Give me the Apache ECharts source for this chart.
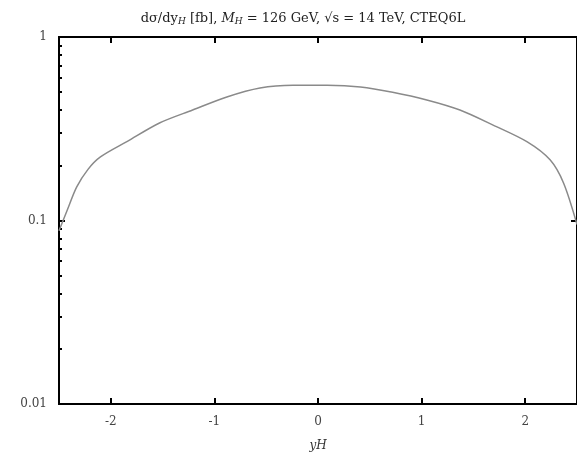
<!DOCTYPE html>
<html>
<head>
<meta charset="utf-8">
<script src="https://cdn.jsdelivr.net/npm/echarts@6/dist/echarts.min.js"></script>
<style>
  html, body { margin: 0; padding: 0; background: #fff; }
  #chart { width: 577px; height: 460px; }
</style>
</head>
<body>
<div id="chart"></div>
<script>
// rapidity yH and dsigma/dyH [fb]
var yH = [-2.5, -2.42, -2.33, -2.22, -2.1, -1.84, -1.53, -1.21, -0.88, -0.56, -0.24, 0.09, 0.41, 0.72, 1.05, 1.37, 1.69, 2.02, 2.24, 2.37, 2.5];
var dsig = [0.088, 0.114, 0.152, 0.19, 0.222, 0.27, 0.34, 0.40, 0.471, 0.527, 0.545, 0.545, 0.534, 0.50, 0.454, 0.40, 0.331, 0.268, 0.214, 0.16, 0.095];
var xTicks = [-2, -1, 0, 1, 2];
var yMajor = [0.01, 0.1, 1];
var yMinor = [0.02, 0.03, 0.04, 0.05, 0.06, 0.07, 0.08, 0.09, 0.2, 0.3, 0.4, 0.5, 0.6, 0.7, 0.8, 0.9];

var serif = 'DejaVu Serif';
var lineData = yH.map(function (x, i) { return [x, dsig[i]]; });

var chart = echarts.init(document.getElementById('chart'));

function xAx(pos, labels) {
  return {
    type: 'value', position: pos, min: -2.5, max: 2.5, interval: 0.5,
    name: labels ? 'yH' : '', nameLocation: 'middle', nameGap: 36,
    nameTextStyle: { fontFamily: serif, fontSize: 12, fontStyle: 'italic', color: '#333' },
    axisLine: { show: true, onZero: false, lineStyle: { color: '#000', width: 2 } },
    axisTick: { show: true, inside: true, length: 6, customValues: xTicks, lineStyle: { color: '#000', width: 2 } },
    axisLabel: { show: labels, customValues: xTicks, margin: 12, fontFamily: serif, fontSize: 12, color: '#444',
      formatter: function (v) { return v; } },
    splitLine: { show: false }
  };
}

function yAx(pos, ticks, len, labels) {
  return {
    type: 'log', logBase: 10, position: pos, min: 0.01, max: 1,
    axisLine: { show: true, onZero: false, lineStyle: { color: '#000', width: 2 } },
    axisTick: { show: true, inside: true, length: len, customValues: ticks, lineStyle: { color: '#000', width: 2 } },
    axisLabel: { show: labels, customValues: yMajor, margin: 12, fontFamily: serif, fontSize: 12, color: '#444',
      formatter: function (v) { return String(v); } },
    splitLine: { show: false }
  };
}

chart.setOption({
  animation: false,
  title: {
    text: 'dσ/dy{s|H} [fb], {i|M}{s|H} = 126 GeV, √s = 14 TeV, CTEQ6L',
    left: 298, textAlign: 'center', top: 6,
    textStyle: {
      fontFamily: serif, fontSize: 13, fontWeight: 'normal', color: '#222',
      rich: {
        s: { fontFamily: serif, fontSize: 9, fontStyle: 'italic', verticalAlign: 'bottom', padding: [6, 0, 0, 0], color: '#222' },
        i: { fontFamily: serif, fontSize: 13, fontStyle: 'italic', color: '#222' }
      }
    }
  },
  grid: { left: 59, right: -4, top: 37, bottom: 56 },
  xAxis: [xAx('bottom', true), xAx('top', false)],
  yAxis: [
    yAx('left', yMajor, 6, true),
    yAx('left', yMinor, 3, false),
    yAx('right', [0.1], 6, false)
  ],
  series: [{
    type: 'line', xAxisIndex: 0, yAxisIndex: 0,
    data: lineData, smooth: 0.3, showSymbol: false,
    lineStyle: { color: '#8a8a8a', width: 1.5 }
  }]
});
</script>
</body>
</html>
